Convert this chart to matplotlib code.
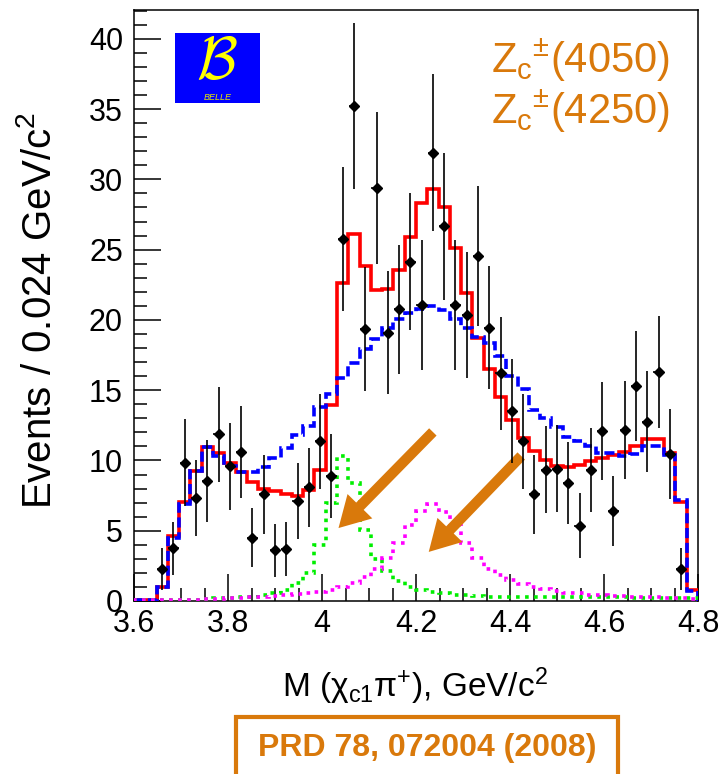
import numpy as np
import matplotlib
matplotlib.use("Agg")
import matplotlib.pyplot as plt
from matplotlib.patches import Rectangle
from matplotlib.ticker import MultipleLocator, FuncFormatter

plt.rcParams['font.family'] = ['Liberation Sans', 'DejaVu Sans']
plt.rcParams['mathtext.fontset'] = 'custom'
plt.rcParams['mathtext.rm'] = 'Liberation Sans'
plt.rcParams['mathtext.it'] = 'Liberation Sans:italic'
plt.rcParams['mathtext.default'] = 'regular'

# binning: 50 bins of 0.024 GeV/c^2 between 3.6 and 4.8
m_lo, m_hi, n_bins = 3.6, 4.8, 50

nan = np.nan
# data points (events per bin), empty bins are nan
data = [nan, nan, 2.3, 3.75, 9.85, 7.3, 8.55, 11.85, 9.6, 10.6,
        4.5, 7.6, 3.6, 3.7, 7.1, 8.1, 11.35, 8.9, 25.75, 35.2,
        19.35, 29.4, 19.1, 20.75, 24.15, 21.05, 31.9, 26.65, 21.05, 20.35,
        24.55, 19.45, 16.2, 13.5, 11.35, 7.6, 9.35, 9.4, 8.4, 5.35,
        9.3, 12.1, 6.4, 12.15, 15.3, 12.75, 16.3, 10.45, 2.3, nan]
data_err = [nan, nan, 1.5, 1.9, 3.1, 2.7, 2.9, 3.4, 3.1, 3.3,
            2.1, 2.8, 1.9, 1.9, 2.7, 2.8, 3.4, 3.0, 5.1, 5.9,
            4.4, 5.4, 4.4, 4.6, 4.9, 4.6, 5.6, 5.2, 4.6, 4.5,
            5.0, 4.4, 4.0, 3.7, 3.4, 2.8, 3.1, 3.1, 2.9, 2.3,
            3.0, 3.5, 2.5, 3.5, 3.9, 3.6, 4.0, 3.2, 1.5, nan]

# fit with two Zc resonances (total)
fit_total = [0.05, 0.05, 1.0, 4.6, 7.05, 9.25, 10.95, 10.5, 9.85, 9.15,
             8.45, 8.0, 7.8, 7.6, 7.5, 7.9, 9.35, 13.95, 22.6, 26.1,
             23.85, 22.1, 22.2, 23.55, 25.9, 28.3, 29.3, 28.05, 25.1, 21.9,
             18.7, 16.5, 14.55, 12.85, 11.6, 10.7, 10.0, 9.6, 9.55, 9.7,
             9.95, 10.2, 10.4, 10.6, 11.05, 11.5, 11.5, 10.55, 7.05, 0.75]
# fit without resonances
fit_nores = [0.05, 0.05, 1.0, 4.5, 6.9, 9.25, 10.95, 10.3, 9.6, 9.15,
             9.15, 9.5, 10.15, 10.9, 11.8, 12.45, 13.8, 14.75, 15.9, 16.9,
             17.95, 18.65, 19.45, 20.1, 20.5, 20.8, 21.0, 20.7, 20.1, 19.4,
             18.8, 18.35, 17.4, 16.0, 15.1, 13.6, 13.0, 12.35, 11.7, 11.35,
             11.0, 10.5, 10.5, 10.3, 10.45, 11.0, 11.0, 10.4, 7.2, 0.7]
# Zc(4050) component
zc4050 = [0.05, 0.05, 0.05, 0.1, 0.1, 0.1, 0.15, 0.2, 0.2, 0.25,
          0.3, 0.4, 0.55, 0.8, 1.25, 2.0, 4.0, 7.0, 10.3, 8.4,
          5.05, 3.0, 2.1, 1.4, 1.0, 0.8, 0.65, 0.55, 0.45, 0.4,
          0.35, 0.3, 0.3, 0.3, 0.3, 0.3, 0.28, 0.28, 0.27, 0.27,
          0.26, 0.26, 0.25, 0.25, 0.24, 0.24, 0.23, 0.23, 0.22, 0.2]
# Zc(4250) component
zc4250 = [0.05, 0.05, 0.1, 0.1, 0.1, 0.1, 0.15, 0.15, 0.2, 0.2,
          0.25, 0.3, 0.35, 0.4, 0.5, 0.55, 0.65, 0.8, 1.0, 1.25,
          1.7, 2.25, 3.05, 4.1, 5.4, 6.4, 6.9, 6.35, 5.4, 4.1,
          3.05, 2.25, 1.85, 1.5, 1.2, 1.0, 0.85, 0.7, 0.6, 0.55,
          0.45, 0.4, 0.35, 0.35, 0.3, 0.3, 0.25, 0.2, 0.2, 0.15]

orange = '#d9790b'

fig = plt.figure(figsize=(7.23, 7.74), dpi=100)
ax = fig.add_axes([134 / 723, 1 - 601 / 774, 564 / 723, 591 / 774])

edges = np.linspace(m_lo, m_hi, n_bins + 1)
centers = 0.5 * (edges[:-1] + edges[1:])

ax.stairs(fit_total, edges, color='#ff0000', lw=2.6, zorder=3)
ax.stairs(fit_nores, edges, color='#0000ff', lw=2.6, linestyle=(0, (2.8, 1.3)), zorder=4)
ax.stairs(zc4050, edges, color='#00ee00', lw=2.6, linestyle=(0, (1, 1.5)), zorder=4)
ax.stairs(zc4250, edges, color='#ff00ff', lw=2.6, linestyle=(0, (1, 1.5)), zorder=4)

ax.errorbar(centers, data, yerr=data_err, xerr=0.011, fmt='D', color='black',
            ms=5.5, elinewidth=1.2, capsize=0, zorder=6)

# arrows pointing at the two resonances
ax.annotate('', xy=(4.031, 5.05), xytext=(4.240, 12.17),
            arrowprops=dict(arrowstyle='simple,head_length=2.2,head_width=2.5,tail_width=0.75',
                            mutation_scale=10, color=orange, lw=0), zorder=5)
ax.annotate('', xy=(4.223, 3.35), xytext=(4.428, 10.46),
            arrowprops=dict(arrowstyle='simple,head_length=2.2,head_width=2.5,tail_width=0.75',
                            mutation_scale=10, color=orange, lw=0), zorder=5)

ax.set_xlim(m_lo, m_hi)
ax.set_ylim(0, 42.05)
ax.xaxis.set_major_locator(MultipleLocator(0.2))
ax.xaxis.set_minor_locator(MultipleLocator(0.05))
ax.yaxis.set_major_locator(MultipleLocator(5))
ax.yaxis.set_minor_locator(MultipleLocator(1))
ax.xaxis.set_major_formatter(FuncFormatter(lambda v, p: '%g' % round(v, 3)))
ax.tick_params(which='both', direction='in', top=False, right=False, width=1.1,
               labelsize=22)
ax.tick_params(which='major', length=19.5)
ax.tick_params(which='minor', length=9.5)
ax.tick_params(axis='x', pad=6)
ax.tick_params(axis='y', pad=8)
for s in ax.spines.values():
    s.set_linewidth(1.1)

fig.text(40 / 723, 1 - 311 / 774, 'Events / 0.024 GeV/c$^{2}$', rotation=90,
         ha='center', va='center', fontsize=29)
fig.text(415 / 723, 1 - 697 / 774, r'M ($\chi_{c1}\pi^{+}$), GeV/c$^{2}$',
         ha='center', va='baseline', fontsize=24)

# resonance labels
fig.text(670 / 723, 1 - 73 / 774, 'Z$_{c}$$^{±}$(4050)', ha='right', va='baseline',
         fontsize=30, color=orange)
fig.text(670 / 723, 1 - 124 / 774, 'Z$_{c}$$^{±}$(4250)', ha='right', va='baseline',
         fontsize=30, color=orange)

# Belle logo
fig.patches.append(Rectangle((175 / 723, 1 - 103 / 774), 85 / 723, 70 / 774,
                             transform=fig.transFigure, facecolor='#0000ff',
                             edgecolor='none', zorder=5))
fig.text(217 / 723, 1 - 79 / 774, r'$\mathcal{B}$', math_fontfamily='cm',
         ha='center', va='baseline', fontsize=43, color='#ffff00', zorder=6)
fig.text(218 / 723, 1 - 100 / 774, 'BELLE', ha='center', va='baseline', fontsize=6.5,
         style='italic', color='#e8e800', zorder=6)

# reference box
fig.patches.append(Rectangle((236 / 723, -0.05), 382 / 723, 0.05 + 1 - 717 / 774,
                             transform=fig.transFigure, facecolor='none',
                             edgecolor=orange, lw=3, zorder=5))
fig.text(427 / 723, 1 - 748 / 774, 'PRD 78, 072004 (2008)',
         family=['Liberation Sans Narrow', 'Liberation Sans'], fontweight='bold',
         ha='center', va='center', fontsize=23, color=orange)

fig.savefig('out.png', dpi=100)
